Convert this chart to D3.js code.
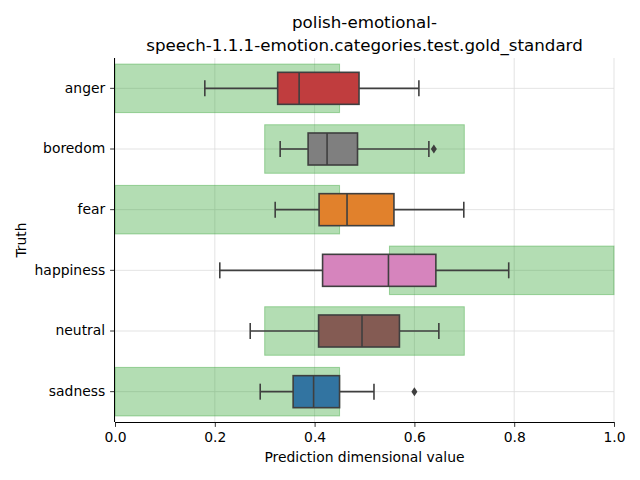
<!DOCTYPE html>
<html><head><meta charset="utf-8">
<script src="https://cdn.jsdelivr.net/npm/d3@7"></script>
<style>body{margin:0;background:#fff}svg{display:block}text{font-family:"DejaVu Sans",sans-serif}</style>
</head><body>
<svg id="c" width="640" height="480"></svg>
<script>
const categories = ["anger","boredom","fear","happiness","neutral","sadness"];
const whiskerLow = [0.180,0.331,0.321,0.210,0.271,0.291];
const q1 =         [0.326,0.387,0.409,0.416,0.408,0.357];
const median =     [0.369,0.425,0.465,0.548,0.495,0.398];
const q3 =         [0.489,0.486,0.559,0.643,0.570,0.450];
const whiskerHigh =[0.609,0.629,0.699,0.789,0.649,0.519];
const outliers =   [[],[0.639],[],[],[],[0.600]];
const goldLow =    [0.0,0.3,0.0,0.55,0.3,0.0];
const goldHigh =   [0.45,0.7,0.45,1.0,0.7,0.45];
const colors = ["#c03d3e","#7f7f7f","#e1812c","#d684bd","#845b53","#3274a1"];
const xTicks = [0,0.2,0.4,0.6,0.8,1.0];
const title = ["polish-emotional-","speech-1.1.1-emotion.categories.test.gold_standard"];

const svg = d3.select("#c");
const L=115,R=614,T=58,B=422;
const x = d3.scaleLinear().domain([0,1]).range([L,R]);
const y = d3.scaleBand().domain(categories).range([T,B]);
const bw = y.bandwidth();
const boxH = 32, capH = 16, goldH = bw*0.8;

// grid
const g = svg.append("g");
g.selectAll(".vg").data(xTicks).enter().append("line")
 .attr("x1",d=>x(d)).attr("x2",d=>x(d)).attr("y1",T).attr("y2",B)
 .attr("stroke","#dcdcdc").attr("stroke-width",0.8);
g.selectAll(".hg").data(categories).enter().append("line")
 .attr("x1",L).attr("x2",R).attr("y1",d=>y(d)+bw/2).attr("y2",d=>y(d)+bw/2)
 .attr("stroke","#dcdcdc").attr("stroke-width",0.8);

// gold rects
svg.selectAll(".gold").data(categories).enter().append("rect")
 .attr("x",(d,i)=>x(goldLow[i])).attr("width",(d,i)=>x(goldHigh[i])-x(goldLow[i]))
 .attr("y",d=>y(d)+bw/2-goldH/2).attr("height",goldH)
 .attr("fill","rgba(44,160,44,0.36)").attr("stroke","rgba(44,160,44,0.4)").attr("stroke-width",1);

// boxes
const lc="#3f3f3f", lw=1.6;
categories.forEach((c,i)=>{
  const cy = y(c)+bw/2;
  const bg = svg.append("g");
  bg.append("line").attr("x1",x(whiskerLow[i])).attr("x2",x(q1[i])).attr("y1",cy).attr("y2",cy).attr("stroke",lc).attr("stroke-width",lw);
  bg.append("line").attr("x1",x(q3[i])).attr("x2",x(whiskerHigh[i])).attr("y1",cy).attr("y2",cy).attr("stroke",lc).attr("stroke-width",lw);
  [whiskerLow[i],whiskerHigh[i]].forEach(v=>{
    bg.append("line").attr("x1",x(v)).attr("x2",x(v)).attr("y1",cy-capH/2).attr("y2",cy+capH/2).attr("stroke",lc).attr("stroke-width",lw);
  });
  bg.append("rect").attr("x",x(q1[i])).attr("width",x(q3[i])-x(q1[i])).attr("y",cy-boxH/2).attr("height",boxH)
    .attr("fill",colors[i]).attr("stroke",lc).attr("stroke-width",lw);
  bg.append("line").attr("x1",x(median[i])).attr("x2",x(median[i])).attr("y1",cy-boxH/2).attr("y2",cy+boxH/2).attr("stroke",lc).attr("stroke-width",lw);
  outliers[i].forEach(v=>{
    bg.append("path").attr("d",`M${x(v)},${cy-4.5}L${x(v)+3},${cy}L${x(v)},${cy+4.5}L${x(v)-3},${cy}Z`).attr("fill",lc);
  });
});

// axes
const xa = svg.append("g").attr("transform",`translate(0,${B})`)
 .call(d3.axisBottom(x).tickValues(xTicks).tickFormat(d3.format(".1f")).tickSize(4.9).tickPadding(4.9));
const ya = svg.append("g").attr("transform",`translate(${L},0)`)
 .call(d3.axisLeft(y).tickSize(4.9).tickPadding(4.9));
[xa,ya].forEach(a=>{
  a.select(".domain").attr("stroke","#000").attr("stroke-width",1);
  a.selectAll(".tick line").attr("stroke","#000").attr("stroke-width",0.8);
  a.selectAll("text").attr("font-size",13.9).attr("fill","#000").attr("font-family","DejaVu Sans");
});
xa.select(".domain").attr("d",`M${L},0.5H${R}`);
ya.select(".domain").attr("d",`M-0.5,${T}V${B}`);

svg.append("text").attr("x",(L+R)/2).attr("y",462).attr("text-anchor","middle").attr("font-size",13.9).text("Prediction dimensional value");
svg.append("text").attr("transform",`translate(26,${(T+B)/2}) rotate(-90)`).attr("text-anchor","middle").attr("font-size",13.9).text("Truth");
title.forEach((t,i)=>svg.append("text").attr("x",(L+R)/2).attr("y",28+i*23).attr("text-anchor","middle").attr("font-size",16.7).text(t));
</script>
</body></html>
